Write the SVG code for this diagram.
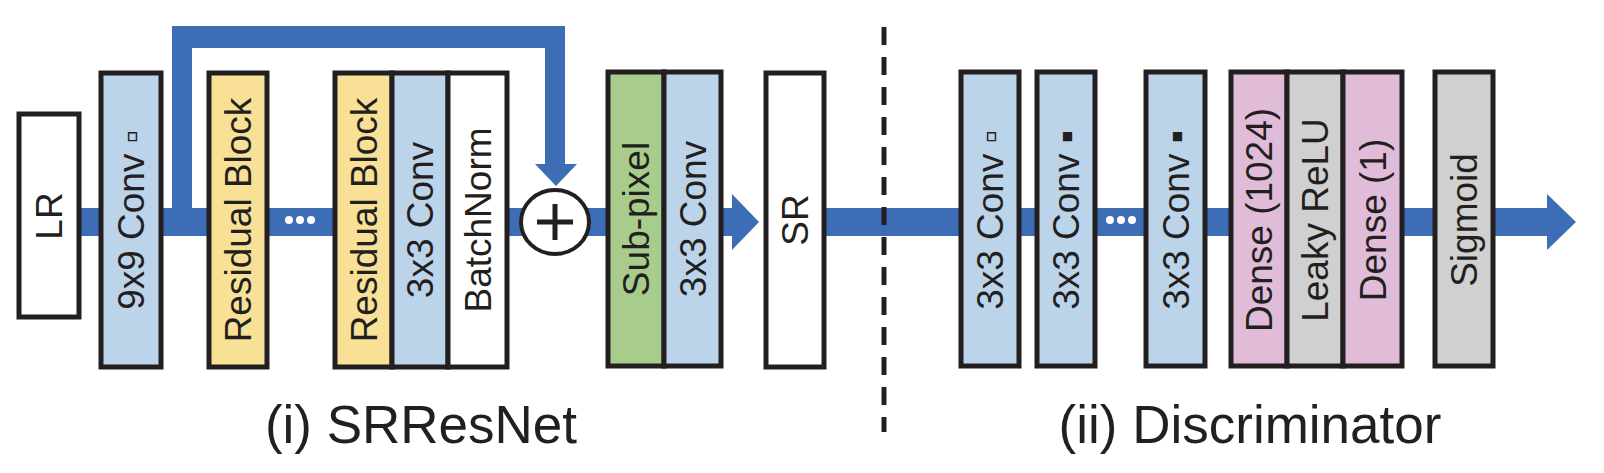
<svg xmlns="http://www.w3.org/2000/svg" width="1604" height="473" viewBox="0 0 1604 473">
<style>
.b{stroke:#231f20;stroke-width:5}
.t{font-family:"Liberation Sans",Arial,sans-serif;font-size:37px;fill:#231f20;text-anchor:middle}
.c{font-family:"Liberation Sans",Arial,sans-serif;font-size:53px;fill:#231f20;text-anchor:middle}
.blue{fill:#bcd4ea}.yel{fill:#f8e096}.grn{fill:#a8cc8c}.pink{fill:#e0bcd8}.gray{fill:#d0d0d0}.wh{fill:#fff}
</style>
<g id="connectors" fill="#3d6db5">
<rect x="75" y="208" width="660" height="28"/>
<polygon points="732,194 759,222 732,250"/>
<rect x="825" y="208" width="725" height="28"/>
<polygon points="1547,194 1576,222 1547,250"/>
<path d="M172,222 V26 H565 V166 H545 V48 H192 V222 Z"/>
<polygon points="535,164 577,164 556,186"/>
<line x1="884" y1="27" x2="884" y2="432" stroke="#231f20" stroke-width="5" stroke-dasharray="18,12"/>
<g fill="#fff"><circle cx="289" cy="220" r="4"/><circle cx="300" cy="220" r="4"/><circle cx="311" cy="220" r="4"/>
<circle cx="1110" cy="220" r="4"/><circle cx="1121" cy="220" r="4"/><circle cx="1132" cy="220" r="4"/></g>
</g>
<g id="LR"><rect class="b wh" x="19" y="114" width="60" height="203"/><text class="t" transform="translate(62,216) rotate(-90)">LR</text></g>
<g id="conv9"><rect class="b blue" x="101" y="73" width="60" height="294"/><text class="t" transform="translate(144,220) rotate(-90)">9x9 Conv ▫</text></g>
<g id="res1"><rect class="b yel" x="209" y="73" width="58" height="294"/><text class="t" transform="translate(251,220) rotate(-90)">Residual Block</text></g>
<g id="resN"><rect class="b yel" x="335" y="73" width="57" height="294"/><rect class="b blue" x="392" y="73" width="56" height="294"/><rect class="b wh" x="448" y="73" width="59" height="294"/>
<text class="t" transform="translate(377,220) rotate(-90)">Residual Block</text>
<text class="t" transform="translate(433,220) rotate(-90)">3x3 Conv</text>
<text class="t" transform="translate(491,220) rotate(-90)">BatchNorm</text></g>
<g id="add"><ellipse cx="555" cy="222" rx="34" ry="32" fill="#fff" stroke="#231f20" stroke-width="4"/>
<path d="M555,204 V240 M537,222 H573" stroke="#231f20" stroke-width="5"/></g>
<g id="up"><rect class="b grn" x="608" y="72" width="56" height="294"/><rect class="b blue" x="664" y="72" width="57" height="294"/>
<text class="t" transform="translate(649,219) rotate(-90)">Sub-pixel</text>
<text class="t" transform="translate(706,219) rotate(-90)">3x3 Conv</text></g>
<g id="SR"><rect class="b wh" x="766" y="73" width="58" height="294"/><text class="t" transform="translate(808,220) rotate(-90)">SR</text></g>
<g id="d1"><rect class="b blue" x="961" y="72" width="58" height="294"/><text class="t" transform="translate(1003,220) rotate(-90)">3x3 Conv ▫</text></g>
<g id="d2"><rect class="b blue" x="1037" y="72" width="58" height="294"/><text class="t" transform="translate(1079,220) rotate(-90)">3x3 Conv ▪</text></g>
<g id="d3"><rect class="b blue" x="1146" y="72" width="59" height="294"/><text class="t" transform="translate(1189,220) rotate(-90)">3x3 Conv ▪</text></g>
<g id="dense"><rect class="b pink" x="1231" y="72" width="56" height="294"/><rect class="b gray" x="1287" y="72" width="56" height="294"/><rect class="b pink" x="1343" y="72" width="59" height="294"/>
<text class="t" transform="translate(1272,220) rotate(-90)">Dense (1024)</text>
<text class="t" transform="translate(1328,220) rotate(-90)">Leaky ReLU</text>
<text class="t" transform="translate(1386,220) rotate(-90)">Dense (1)</text></g>
<g id="sig"><rect class="b gray" x="1435" y="72" width="58" height="294"/><text class="t" transform="translate(1477,220) rotate(-90)">Sigmoid</text></g>
<text class="c" x="421" y="443">(i) SRResNet</text>
<text class="c" x="1250" y="443">(ii) Discriminator</text>
</svg>
